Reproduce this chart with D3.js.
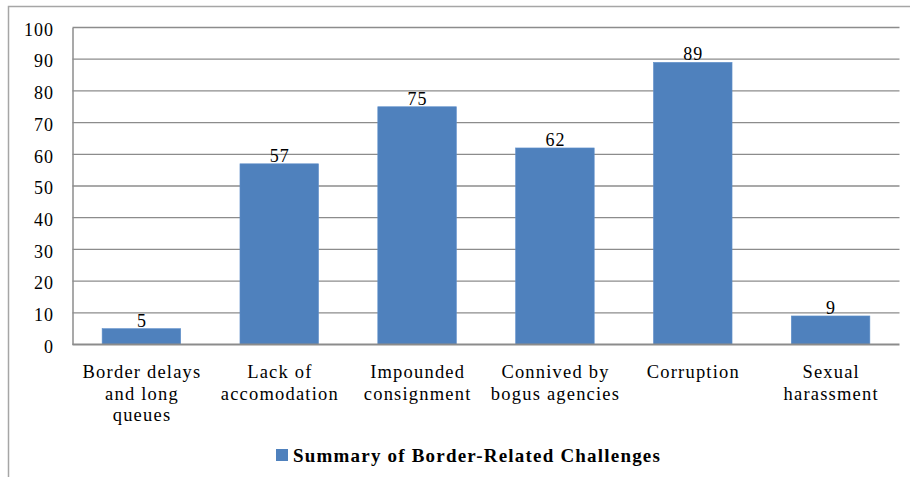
<!DOCTYPE html>
<html>
<head>
<meta charset="utf-8">
<script src="https://cdn.jsdelivr.net/npm/d3@7/dist/d3.min.js"></script>
<style>
  html, body { margin: 0; padding: 0; background: #fff; }
  svg { display: block; }
  svg text { font-family: 'Liberation Serif', 'Times New Roman', Times, serif; fill: #000; }
</style>
</head>
<body>
<svg id="chart" width="910" height="477"></svg>
<script>
const categories = [
  ["Border delays", "and long", "queues"],
  ["Lack of", "accomodation"],
  ["Impounded", "consignment"],
  ["Connived by", "bogus agencies"],
  ["Corruption"],
  ["Sexual", "harassment"]
];
const values = [5, 57, 75, 62, 89, 9];
const yTicks = [0, 10, 20, 30, 40, 50, 60, 70, 80, 90, 100];
const seriesName = "Summary of Border-Related Challenges";

const svg = d3.select("#chart");
const W = 910, H = 477;
const plot = { left: 72.5, right: 899.5, top: 27.5, bottom: 344.5 };
const FONT = "'Liberation Serif', 'Times New Roman', Times, serif";

svg.append("rect")
  .attr("x", 8.5).attr("y", 6.5)
  .attr("width", W + 10).attr("height", H + 10)
  .attr("fill", "none").attr("stroke", "#a6a6a6").attr("stroke-width", 1.5);

const x = d3.scaleBand()
  .domain(d3.range(categories.length))
  .range([plot.left, plot.right])
  .paddingInner(0.43).paddingOuter(0.215);

const y = d3.scaleLinear().domain([0, 100]).range([plot.bottom, plot.top]);

svg.append("g")
  .selectAll("line")
  .data(yTicks.filter(d => d > 0))
  .join("line")
  .attr("x1", plot.left).attr("x2", plot.right)
  .attr("y1", d => y(d)).attr("y2", d => y(d))
  .attr("stroke", "#8c8c8c").attr("stroke-width", 1.3);

const yAxis = d3.axisLeft(y).tickValues(yTicks).tickSize(0).tickPadding(18.5);
const gy = svg.append("g").attr("transform", `translate(${plot.left},0)`).call(yAxis)
  .attr("font-family", FONT).attr("font-size", 18);
gy.select(".domain").attr("stroke", "#8c8c8c").attr("stroke-width", 1.5);
gy.selectAll("text")
  .style("font-family", FONT)
  .style("letter-spacing", "1px")
  .attr("fill", "#000")
  .attr("dy", "0.43em");

svg.append("g")
  .selectAll("rect")
  .data(values)
  .join("rect")
  .attr("x", (d, i) => x(i))
  .attr("y", d => y(d))
  .attr("width", x.bandwidth())
  .attr("height", d => y(0) - y(d))
  .attr("fill", "#4f81bd")
  .attr("stroke", "#5f8fca").attr("stroke-width", 0.6);

svg.append("line")
  .attr("x1", plot.left).attr("x2", plot.right)
  .attr("y1", y(0)).attr("y2", y(0))
  .attr("stroke", "#8c8c8c").attr("stroke-width", 2);

svg.append("g")
  .selectAll("text")
  .data(values)
  .join("text")
  .attr("x", (d, i) => x(i) + x.bandwidth() / 2 + 0.5)
  .attr("y", d => y(d) - 2)
  .attr("text-anchor", "middle")
  .style("font-family", FONT)
  .style("font-size", "18px")
  .style("letter-spacing", "1px")
  .text(d => d);

const cat = svg.append("g")
  .selectAll("text")
  .data(categories)
  .join("text")
  .attr("x", (d, i) => x(i) + x.bandwidth() / 2 + 0.6)
  .attr("y", 378)
  .attr("text-anchor", "middle")
  .style("font-family", FONT)
  .style("font-size", "18.5px")
  .style("letter-spacing", "1.2px");
cat.selectAll("tspan")
  .data(d => d)
  .join("tspan")
  .attr("x", function() { return this.parentNode.getAttribute("x"); })
  .attr("dy", (d, j) => j === 0 ? 0 : 21.5)
  .text(d => d);

const legend = svg.append("g");
legend.append("rect")
  .attr("x", 276).attr("y", 449)
  .attr("width", 12).attr("height", 12)
  .attr("fill", "#4f81bd");
legend.append("text")
  .attr("x", 293).attr("y", 462)
  .style("font-family", FONT)
  .style("font-size", "19px")
  .style("font-weight", "bold")
  .style("letter-spacing", "1.2px")
  .text(seriesName);
</script>
</body>
</html>
